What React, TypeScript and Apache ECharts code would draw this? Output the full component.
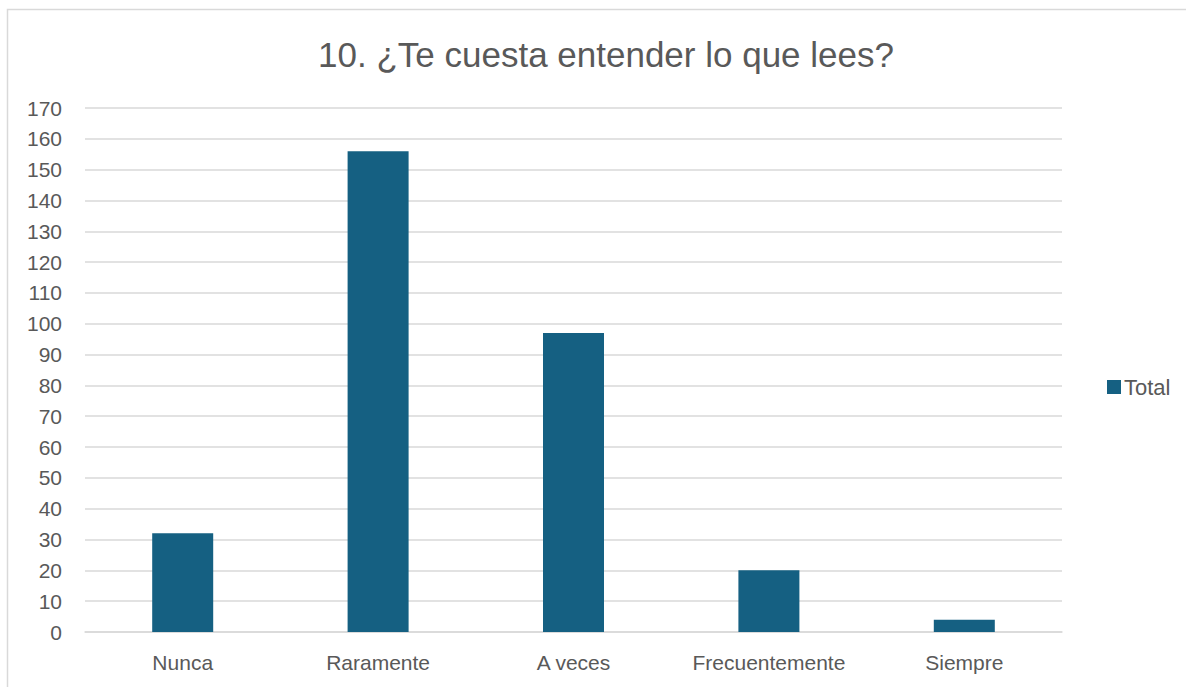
import React, { useEffect, useRef } from "react";
import * as echarts from "echarts";

const categories = ["Nunca", "Raramente", "A veces", "Frecuentemente", "Siempre"];
const totals = [32, 156, 97, 20, 4];
const titleText = "10. ¿Te cuesta entender lo que lees?";
const seriesName = "Total";

export default function App() {
  const ref = useRef<HTMLDivElement>(null);
  useEffect(() => {
    if (!ref.current) return;
    const chart = echarts.init(ref.current, null, { renderer: "svg" });
    const font = "'Liberation Sans', Arial, sans-serif";
    chart.setOption({
      animation: false,
      backgroundColor: "#ffffff",
      textStyle: { fontFamily: font },
      title: {
        text: titleText,
        left: 601,
        textAlign: "center",
        top: 32,
        textStyle: { fontSize: 35, fontWeight: "normal", color: "#595959", fontFamily: font },
      },
      graphic: [
        {
          type: "rect",
          shape: { x: 7.5, y: 9.5, width: 1200, height: 700 },
          style: { fill: "none", stroke: "#d9d9d9", lineWidth: 1.5 },
          silent: true,
        },
      ],
      legend: {
        data: [seriesName],
        left: 1102,
        top: 371,
        orient: "vertical",
        icon: "rect",
        itemWidth: 14,
        itemHeight: 14,
        itemGap: 6,
        textStyle: { fontSize: 22, color: "#595959", fontFamily: font, padding: [0, 0, 0, -2] },
      },
      grid: { left: 85, right: 124, top: 108, bottom: 55, containLabel: false },
      xAxis: {
        type: "category",
        data: categories,
        axisLine: { show: true, lineStyle: { color: "#d9d9d9", width: 1.5 } },
        axisTick: { show: false },
        axisLabel: { interval: 0, hideOverlap: false, fontSize: 21, color: "#595959", margin: 20, fontFamily: font },
      },
      yAxis: {
        type: "value",
        min: 0,
        max: 170,
        interval: 10,
        axisLine: { show: false },
        axisTick: { show: false },
        axisLabel: { fontSize: 21, color: "#595959", margin: 23, fontFamily: font },
        splitLine: { lineStyle: { color: "#d9d9d9", width: 1.5 } },
      },
      series: [
        {
          name: seriesName,
          type: "bar",
          data: totals,
          barWidth: 61,
          itemStyle: { color: "#156082" },
        },
      ],
    });
    return () => chart.dispose();
  }, []);
  return (
    <div
      ref={ref}
      style={{ position: "fixed", left: 0, top: 0, width: 1186, height: 687 }}
    />
  );
}
